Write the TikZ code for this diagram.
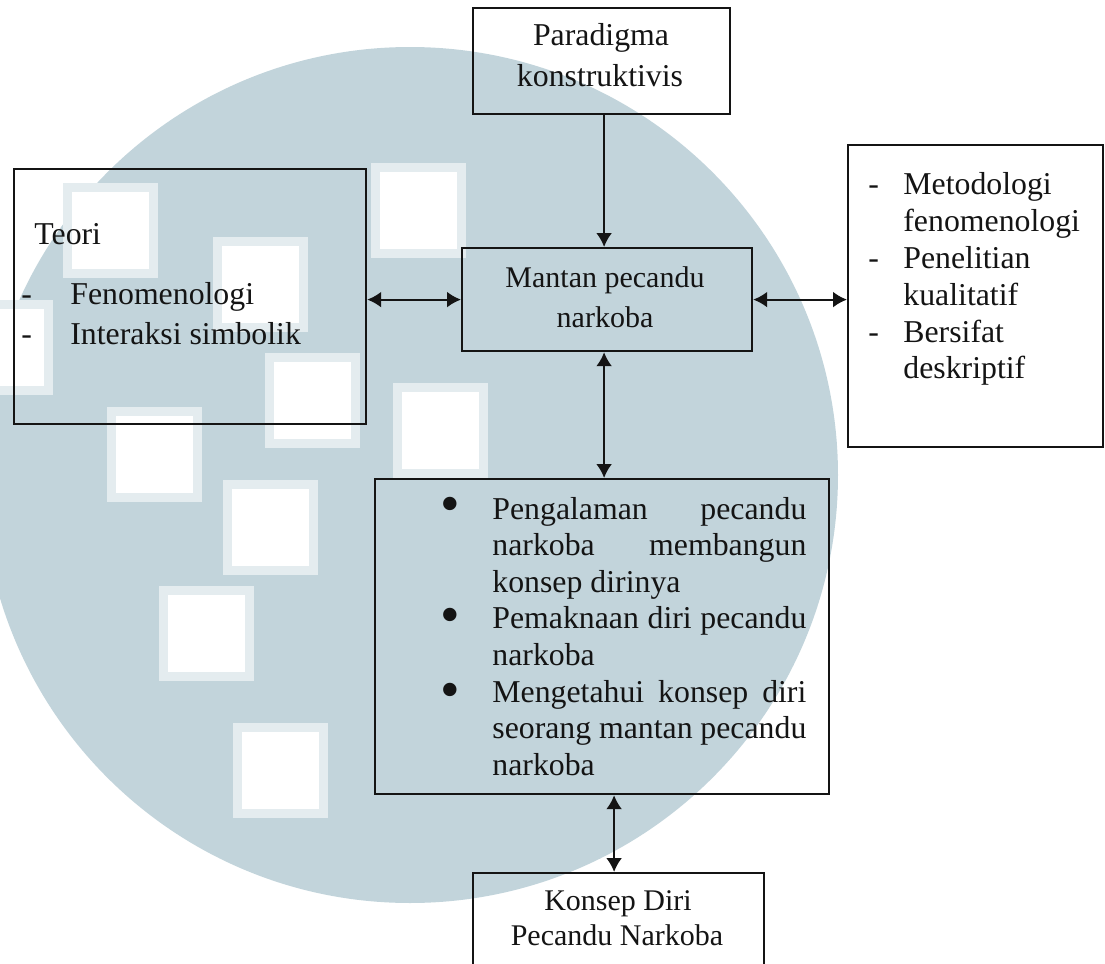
\documentclass[tikz,border=0pt]{standalone}
\usepackage{fontspec}
\setmainfont{Liberation Serif}
\usetikzlibrary{arrows.meta,calc}
\definecolor{wm}{RGB}{194,212,219}
\definecolor{wmlight}{RGB}{228,236,239}
\definecolor{ink}{RGB}{20,20,20}
\newcommand\fsA{\fontsize{15.9}{18.4}\selectfont}
\newcommand\fsB{\fontsize{15}{17}\selectfont}
\newcommand\jline[1]{\makebox[157pt][s]{#1}}
\begin{document}
\begin{tikzpicture}[x=0.5pt,y=-0.5pt,
  frame/.style={draw=ink, line width=1.1pt, inner sep=0, anchor=north west},
  txt/.style={inner sep=0, anchor=base west, text=ink, font=\fsA},
  ctxt/.style={inner sep=0, anchor=base, text=ink, font=\fsA},
  ctxtb/.style={inner sep=0, anchor=base, text=ink, font=\fsB},
  bul/.style={inner sep=0, anchor=center, text=ink, font=\fontsize{28}{28}\selectfont},
  darr/.style={{Latex[length=7pt,width=8pt]}-{Latex[length=7pt,width=8pt]}, line width=1.1pt, draw=ink},
  arr/.style={-{Latex[length=7pt,width=8pt]}, line width=1.1pt, draw=ink},
  sq/.style={fill=wmlight},
  sqin/.style={fill=white}]
\useasboundingbox (0,0) rectangle (1105,964);
% watermark
\fill[wm] (410,475) circle (214pt);
\foreach \a/\b in {63/183, 213/237, 265/353, 371/163, 393/383, 107/407, 223/480, 159/586, 233/723, -42/300}{
  \fill[sq] (\a,\b) rectangle ++(95,95);
  \fill[sqin] (\a+9,\b+9) rectangle ++(77,77);
}
% boxes
\node[frame, minimum width=128.5pt, minimum height=53pt] (para) at (472,7) {};
\node[frame, minimum width=145pt, minimum height=51.5pt] (mantan) at (461,247) {};
\node[frame, minimum width=176pt, minimum height=127.5pt] (teori) at (13,168) {};
\node[frame, minimum width=127.5pt, minimum height=151pt] (metod) at (847,144) {};
\node[frame, minimum width=227pt, minimum height=157.5pt] (bullet) at (374,478) {};
\node[frame, minimum width=145.5pt, minimum height=60pt] (konsep) at (472,872) {};
% texts
\node[ctxt] (p1) at (601,45) {Paradigma};
\node[ctxt] (p2) at (600,86) {konstruktivis};
\node[ctxtb] (m1) at (605,287) {Mantan pecandu};
\node[ctxtb] (m2) at (605,327) {narkoba};
\node[txt] (t0) at (34,244) {Teori};
\node[txt] (t1d) at (21,304) {-};
\node[txt] (t1) at (70,304) {Fenomenologi};
\node[txt] (t2d) at (21,344) {-};
\node[txt] (t2) at (70,344) {Interaksi simbolik};
\node[txt] (r1d) at (868,194) {-};
\node[txt] (r1) at (903,194) {Metodologi};
\node[txt] (r2) at (903,231.5) {fenomenologi};
\node[txt] (r3d) at (868,268) {-};
\node[txt] (r3) at (903,268) {Penelitian};
\node[txt] (r4) at (903,305) {kualitatif};
\node[txt] (r5d) at (868,342) {-};
\node[txt] (r5) at (903,342) {Bersifat};
\node[txt] (r6) at (903,378) {deskriptif};
\node[bul] (b1) at (450,510) {\textbullet};
\node[bul] (b2) at (450,621) {\textbullet};
\node[bul] (b3) at (450,696) {\textbullet};
\node[txt] (l1) at (492,519) {\jline{Pengalaman pecandu}};
\node[txt] (l2) at (492,555.6) {\jline{narkoba membangun}};
\node[txt] (l3) at (492,592.2) {konsep dirinya};
\node[txt] (l4) at (492,628.8) {\jline{Pemaknaan diri pecandu}};
\node[txt] (l5) at (492,665.4) {narkoba};
\node[txt] (l6) at (492,702) {\jline{Mengetahui konsep diri}};
\node[txt] (l7) at (492,738.6) {\jline{seorang mantan pecandu}};
\node[txt] (l8) at (492,775.2) {narkoba};
\node[ctxtb] (k1) at (618,910) {Konsep Diri};
\node[ctxtb] (k2) at (617,945) {Pecandu Narkoba};
% connectors
\draw[arr] ([xshift=1.25pt]para.south) -- ([xshift=1.25pt]para.south |- mantan.north);
\draw[darr] (teori.east |- mantan.west) -- (mantan.west);
\draw[darr] (mantan.east) -- (mantan.east -| metod.west);
\draw[darr] ([xshift=-1.5pt]mantan.south) -- ([xshift=-1.5pt]mantan.south |- bullet.north);
\draw[darr] ([xshift=-2.25pt]konsep.north) -- ([xshift=-2.25pt]konsep.north |- bullet.south);
\end{tikzpicture}
\end{document}
